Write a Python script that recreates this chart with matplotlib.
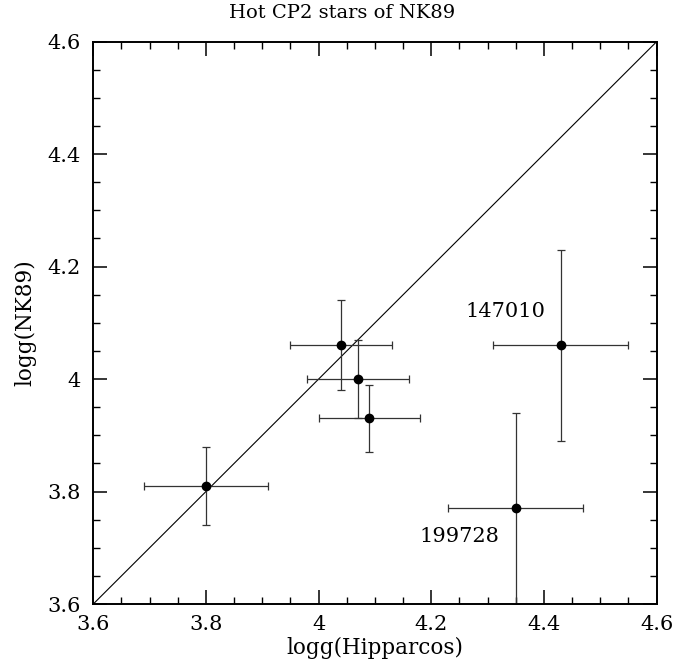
import matplotlib
matplotlib.use("Agg")
import matplotlib.pyplot as plt
from matplotlib.ticker import MultipleLocator, FuncFormatter

# Data
logg_hip = [3.80, 4.04, 4.07, 4.09, 4.43, 4.35]
logg_hip_err = [0.11, 0.09, 0.09, 0.09, 0.12, 0.12]
logg_nk89 = [3.81, 4.06, 4.00, 3.93, 4.06, 3.77]
logg_nk89_err = [0.07, 0.08, 0.07, 0.06, 0.17, 0.17]
star_labels = ["147010", "199728"]
label_pos_x = [4.331, 4.25]
label_pos_y = [4.12, 3.72]

plt.rcParams['font.family'] = ['DejaVu Serif']

fig = plt.figure(figsize=(6.89, 6.68), dpi=100)
ax = fig.add_axes([0.1354, 0.0958, 0.8176, 0.8418])

ax.plot([3.6, 4.6], [3.6, 4.6], color='black', lw=0.8)
ax.errorbar(logg_hip, logg_nk89, xerr=logg_hip_err, yerr=logg_nk89_err,
            fmt='o', color='black', ms=6, elinewidth=0.9, capsize=3,
            capthick=0.9, ecolor='#333333')

for lab, lx, ly in zip(star_labels, label_pos_x, label_pos_y):
    ax.text(lx, ly, lab, fontsize=15, ha='center', va='center')

ax.set_xlim(3.6, 4.6)
ax.set_ylim(3.6, 4.6)
fmt = FuncFormatter(lambda v, p: '%g' % round(v, 3))
for axis in (ax.xaxis, ax.yaxis):
    axis.set_major_locator(MultipleLocator(0.2))
    axis.set_minor_locator(MultipleLocator(0.05))
    axis.set_major_formatter(fmt)
ax.tick_params(which='both', direction='in', top=True, right=True, labelsize=15)
ax.tick_params(which='major', length=10, width=1.1)
ax.tick_params(which='minor', length=5, width=1.0)
ax.tick_params(axis='x', pad=8)
ax.tick_params(axis='y', pad=9)
for s in ax.spines.values():
    s.set_linewidth(1.4)

ax.set_xlabel('logg(Hipparcos)', fontsize=15.5, labelpad=2)
ax.set_ylabel('logg(NK89)', fontsize=15.5, labelpad=8)
fig.text(0.497, 1 - 13 / 668, 'Hot CP2 stars of NK89', fontsize=14,
         ha='center', va='center')

fig.savefig('out.png', dpi=100)
